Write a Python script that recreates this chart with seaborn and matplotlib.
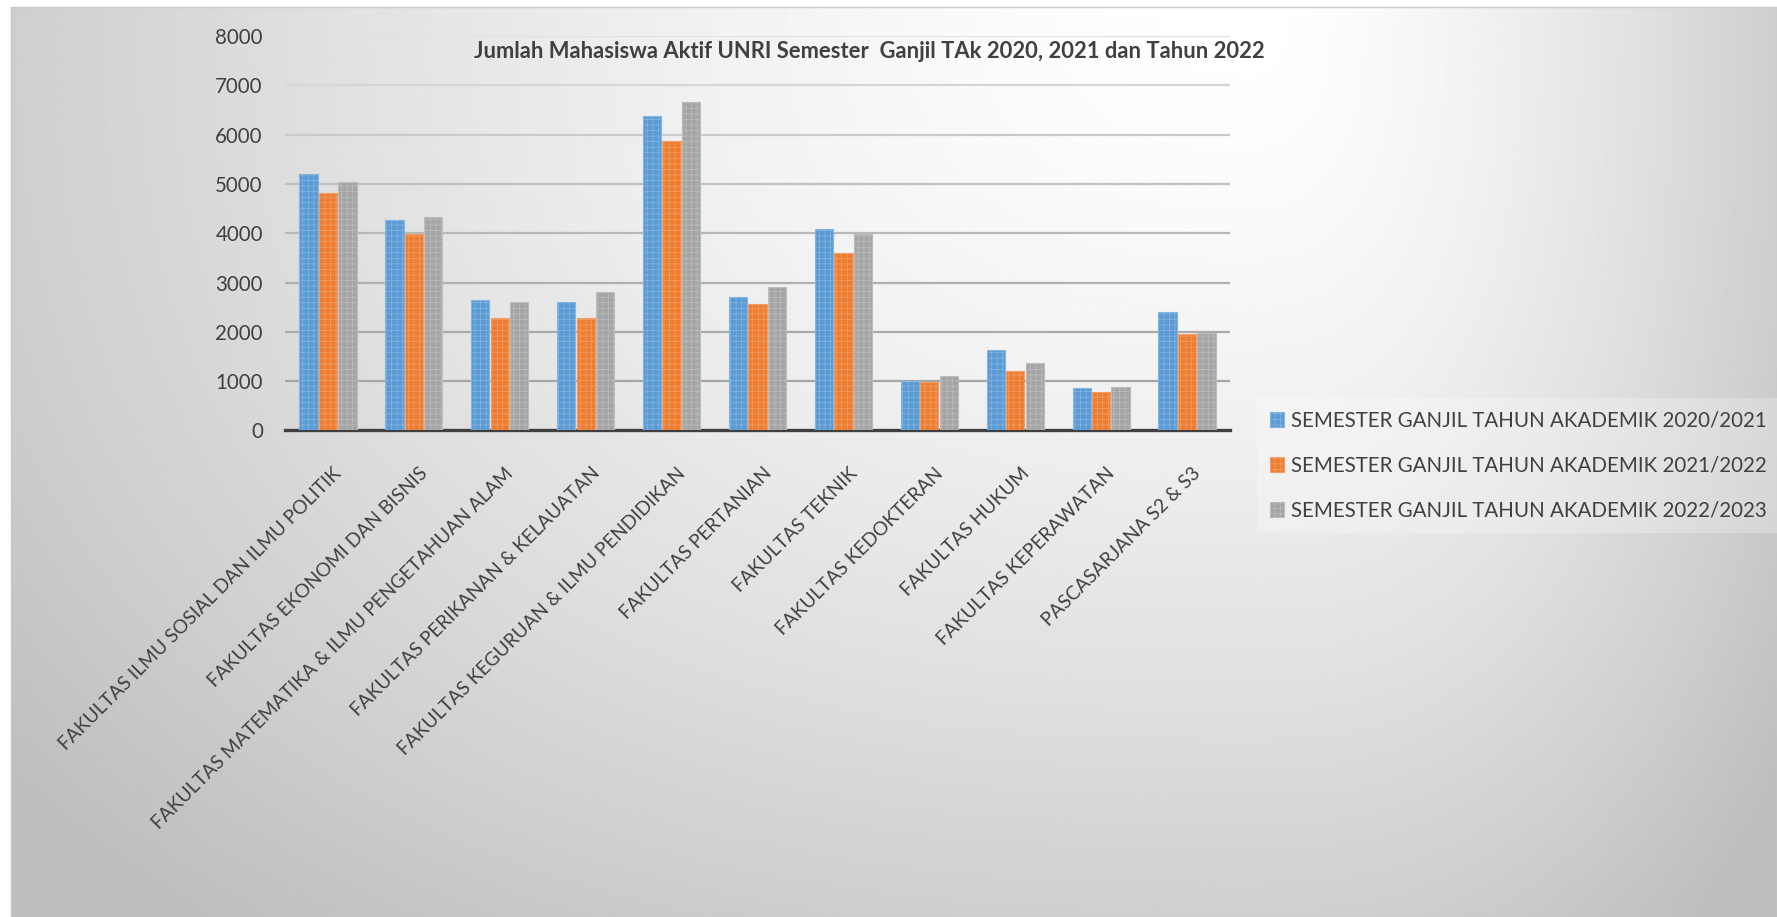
import numpy as np
import pandas as pd
import matplotlib
matplotlib.use("Agg")
import matplotlib.pyplot as plt
import matplotlib.transforms as mtransforms
from matplotlib.patches import Rectangle, Patch
from matplotlib.colors import to_rgb
import seaborn as sns

# ---------------- data ----------------
categories = [
    "FAKULTAS ILMU SOSIAL DAN ILMU POLITIK",
    "FAKULTAS EKONOMI DAN BISNIS",
    "FAKULTAS MATEMATIKA & ILMU PENGETAHUAN ALAM",
    "FAKULTAS PERIKANAN & KELAUATAN",
    "FAKULTAS KEGURUAN & ILMU PENDIDIKAN",
    "FAKULTAS PERTANIAN",
    "FAKULTAS TEKNIK",
    "FAKULTAS KEDOKTERAN",
    "FAKULTAS HUKUM",
    "FAKULTAS KEPERAWATAN",
    "PASCASARJANA S2 & S3",
]
series_names = [
    "SEMESTER GANJIL TAHUN AKADEMIK 2020/2021",
    "SEMESTER GANJIL TAHUN AKADEMIK 2021/2022",
    "SEMESTER GANJIL TAHUN AKADEMIK 2022/2023",
]
values_2020 = [5200, 4270, 2640, 2600, 6370, 2715, 4080, 1000, 1635, 855, 2410]
values_2021 = [4825, 3990, 2290, 2275, 5875, 2565, 3595, 990, 1215, 785, 1950]
values_2022 = [5035, 4325, 2600, 2800, 6660, 2910, 3980, 1100, 1365, 875, 1970]
y_ticks = [0, 1000, 2000, 3000, 4000, 5000, 6000, 7000, 8000]
title_text = "Jumlah Mahasiswa Aktif UNRI Semester  Ganjil TAk 2020, 2021 dan Tahun 2022"

df = pd.DataFrame({
    "Fakultas": categories * 3,
    "Semester": np.repeat(series_names, len(categories)),
    "Jumlah": values_2020 + values_2021 + values_2022,
})

# ---------------- style ----------------
sns.set_theme(style="white")
plt.rcParams["font.family"] = ["Lato", "DejaVu Sans"]
plt.rcParams["hatch.linewidth"] = 0.5
TEXT = "#404040"
palette = ["#5B9BD5", "#ED7D31", "#A5A5A5"]


def tint(c, f):
    r, g, b = to_rgb(c)
    return (r + (1 - r) * f, g + (1 - g) * f, b + (1 - b) * f)


W, H = 1777, 917
fig = plt.figure(figsize=(W / 100, H / 100), dpi=100)
fig.patch.set_facecolor("white")
renderer = fig.canvas.get_renderer()


def fit_size(s, target_px, weight="normal"):
    t = fig.text(0, 0, s, fontsize=10, fontweight=weight)
    w = t.get_window_extent(renderer).width
    t.remove()
    return 10 * target_px / w


fs = fit_size(series_names[0], 474)
xfs = fs * 0.93
ts = fit_size(title_text, 790, "bold")

# ---------------- background gradient (rectangular path gradient) ----------------
bg = fig.add_axes([11 / W, 0, 1 - 11 / W, 1 - 7 / H], zorder=0)
xs = np.linspace(11, W, 700)
ys = np.linspace(7, H, 360)
X, Y = np.meshgrid(xs, ys)
cx = 1250.0
dx = np.where(X < cx, (cx - X) / (cx - 11), (X - cx) / (W - cx))
dy = (Y - 7) / (H - 7)
p = 2.5
r = (dx ** p + dy ** p) ** (1 / p)
c = np.clip(255 - 48 * r ** 1.5, 190, 255) / 255
bg.imshow(c, cmap="gray", vmin=0, vmax=1, extent=(0, 1, 0, 1), aspect="auto",
          origin="upper", interpolation="bilinear")
bg.set_xlim(0, 1)
bg.set_ylim(0, 1)
bg.set_axis_off()
bg.add_patch(Rectangle((0, 0), 1, 1, transform=bg.transAxes, fill=False,
                       ec="#c8c8c8", lw=1.0, clip_on=False))

# ---------------- main axes ----------------
ax = fig.add_axes([285 / W, 1 - 430.5 / H, (1230 - 285) / W, (430.5 - 36) / H], zorder=1)
ax.patch.set_alpha(0)

sns.barplot(data=df, x="Fakultas", y="Jumlah", hue="Semester", order=categories,
            hue_order=series_names, palette=palette, saturation=1, width=0.68,
            gap=0.06, errorbar=None, ax=ax, legend=False, zorder=3)

for bar in ax.patches:
    fc = bar.get_facecolor()
    bar.set_edgecolor(tint(fc[:3], 0.25))
    bar.set_linewidth(0.8)
    bar.set_hatch("+++")

ax.set_xlim(-0.5, len(categories) - 0.5)
ax.set_ylim(0, 8000)
ax.set_yticks(y_ticks)
ax.set_xlabel("")
ax.set_ylabel("")

ax.set_axisbelow(True)
ax.grid(axis="y", lw=1.6)
grid_cols = ["#ffffff", "#a6a6a6", "#aaaaaa", "#b0b0b0", "#b8b8b8", "#c0c0c0",
             "#cacaca", "#d6d6d6", "#e2e2e2"]
for gl, gc in zip(ax.get_ygridlines(), grid_cols):
    gl.set_color(gc)
ax.get_ygridlines()[0].set_visible(False)

for s in ["left", "right", "top"]:
    ax.spines[s].set_visible(False)
ax.spines["bottom"].set_color(TEXT)
ax.spines["bottom"].set_linewidth(2.4)

ax.tick_params(axis="y", length=0, pad=16, labelsize=fs, labelcolor=TEXT)
ax.tick_params(axis="x", length=0, pad=0, labelsize=xfs, labelcolor=TEXT)
offset = mtransforms.ScaledTranslation(5 / 100, -34 / 100, fig.dpi_scale_trans)
for lab in ax.get_xticklabels():
    lab.set_rotation(45)
    lab.set_rotation_mode("anchor")
    lab.set_ha("right")
    lab.set_va("top")
    lab.set_transform(lab.get_transform() + offset)

# ---------------- title ----------------
fig.text(869 / W, 1 - 52 / H, title_text, ha="center", va="center",
         fontsize=ts, fontweight="bold", color=TEXT)

# ---------------- legend ----------------
handles = [Patch(facecolor=pc, edgecolor=tint(pc, 0.25), hatch="+++", lw=0.8) for pc in palette]
leg = fig.legend(handles, series_names, loc="upper left",
                 bbox_to_anchor=(1247 / W, 1 - 388 / H), frameon=True,
                 facecolor="white", framealpha=0.25, edgecolor="none",
                 fontsize=fs, labelcolor=TEXT, handlelength=0.7, handleheight=0.7,
                 handletextpad=0.35, labelspacing=1.22, borderpad=0.6,
                 fancybox=False)

fig.savefig("out.png", dpi=100)
